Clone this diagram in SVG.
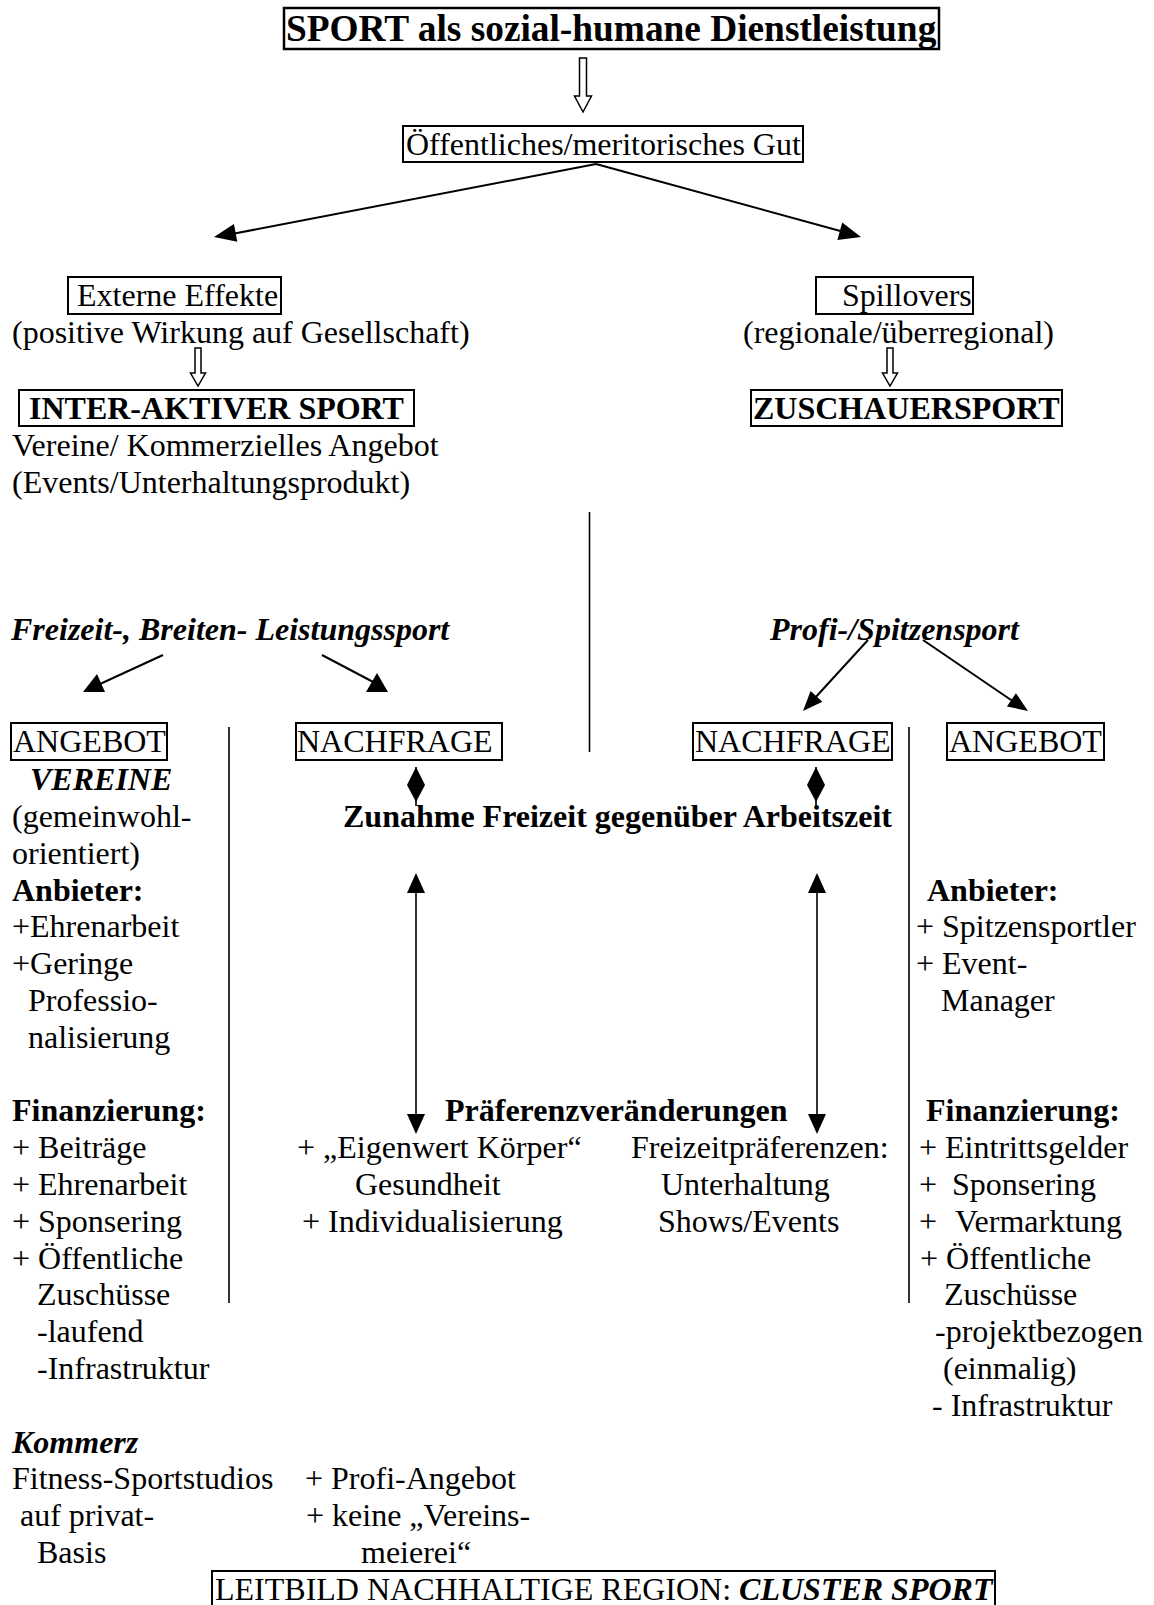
<svg xmlns="http://www.w3.org/2000/svg" width="1154" height="1605" viewBox="0 0 1154 1605">
<style>
text{font-family:"Liberation Serif","Times New Roman",serif;font-size:32px;fill:#000}
.t{font-size:37.33px;font-weight:bold}
.b{font-weight:bold}
.bi{font-weight:bold;font-style:italic}
.box{fill:none;stroke:#000;stroke-width:2}
.ln{stroke:#000;stroke-width:2;fill:none}
.sep{stroke:#000;stroke-width:1.6;fill:none}
.hd{fill:#000;stroke:none}
.hol{fill:#fff;stroke:#000;stroke-width:1.5}
</style>
<rect width="1154" height="1605" fill="#fff"/>

<g id="title">
<rect class="box" x="284" y="8" width="655" height="41" style="stroke-width:2.5"/>
<text class="t" x="286" y="41">SPORT als sozial-humane Dienstleistung</text>
</g>
<g id="gut">
<rect class="box" x="403" y="126" width="400" height="36"/>
<text x="406" y="155">Öffentliches/meritorisches Gut</text>
</g>
<g id="externe">
<rect class="box" x="68" y="277" width="213" height="37"/>
<text x="77" y="306">Externe Effekte</text>
<text x="12" y="343">(positive Wirkung auf Gesellschaft)</text>
</g>
<g id="spillovers">
<rect class="box" x="816" y="277" width="157" height="37"/>
<text x="842" y="306">Spillovers</text>
<text x="743" y="343">(regionale/überregional)</text>
</g>
<g id="interaktiv">
<rect class="box" x="19" y="390" width="395" height="36"/>
<text class="b" x="29" y="419">INTER-AKTIVER SPORT</text>
<text x="12" y="456">Vereine/ Kommerzielles Angebot</text>
<text x="12" y="493">(Events/Unterhaltungsprodukt)</text>
</g>
<g id="zuschauer">
<rect class="box" x="751" y="390" width="311" height="36"/>
<text class="b" x="753" y="419">ZUSCHAUERSPORT</text>
</g>
<g id="freizeit">
<text class="bi" x="11" y="640">Freizeit-, Breiten- Leistungssport</text>
</g>
<g id="profi">
<text class="bi" x="770" y="640">Profi-/Spitzensport</text>
</g>
<g id="angebot-left">
<rect class="box" x="11" y="723" width="156" height="37"/>
<text x="13" y="752">ANGEBOT</text>
<text class="bi" x="30" y="790">VEREINE</text>
<text x="12" y="827">(gemeinwohl-</text>
<text x="12" y="864">orientiert)</text>
<text class="b" x="12" y="901">Anbieter:</text>
<text x="12" y="937">+Ehrenarbeit</text>
<text x="12" y="974">+Geringe</text>
<text x="28" y="1011">Professio-</text>
<text x="28" y="1048">nalisierung</text>
<text class="b" x="12" y="1121">Finanzierung:</text>
<text x="12" y="1158">+ Beiträge</text>
<text x="12" y="1195">+ Ehrenarbeit</text>
<text x="12" y="1232">+ Sponsering</text>
<text x="12" y="1269">+ Öffentliche</text>
<text x="37" y="1305">Zuschüsse</text>
<text x="37" y="1342">-laufend</text>
<text x="37" y="1379">-Infrastruktur</text>
</g>
<g id="nachfrage-left">
<rect class="box" x="296" y="723" width="206" height="37"/>
<text x="297" y="752">NACHFRAGE</text>
</g>
<g id="nachfrage-right">
<rect class="box" x="693" y="723" width="199" height="37"/>
<text x="695" y="752">NACHFRAGE</text>
</g>
<g id="angebot-right">
<rect class="box" x="947" y="723" width="157" height="37"/>
<text x="949" y="752">ANGEBOT</text>
<text class="b" x="927" y="901">Anbieter:</text>
<text x="916" y="937">+ Spitzensportler</text>
<text x="916" y="974">+ Event-</text>
<text x="941" y="1011">Manager</text>
<text class="b" x="926" y="1121">Finanzierung:</text>
<text x="919" y="1158">+ Eintrittsgelder</text>
<text x="919" y="1195">+<tspan x="952">Sponsering</tspan></text>
<text x="919" y="1232">+<tspan x="955">Vermarktung</tspan></text>
<text x="920" y="1269">+ Öffentliche</text>
<text x="944" y="1305">Zuschüsse</text>
<text x="935" y="1342">-projektbezogen</text>
<text x="943" y="1379">(einmalig)</text>
<text x="932" y="1416">- Infrastruktur</text>
</g>
<g id="zunahme">
<text class="b" x="343" y="827">Zunahme Freizeit gegenüber Arbeitszeit</text>
</g>
<g id="praeferenz">
<text class="b" x="445" y="1121">Präferenzveränderungen</text>
<text x="297" y="1158">+ „Eigenwert Körper“</text>
<text x="355" y="1195">Gesundheit</text>
<text x="302" y="1232">+ Individualisierung</text>
<text x="631" y="1158">Freizeitpräferenzen:</text>
<text x="661" y="1195">Unterhaltung</text>
<text x="658" y="1232">Shows/Events</text>
</g>
<g id="kommerz">
<text class="bi" x="12" y="1453">Kommerz</text>
<text x="12" y="1489">Fitness-Sportstudios</text>
<text x="20" y="1526">auf privat-</text>
<text x="37" y="1563">Basis</text>
<text x="305" y="1489">+ Profi-Angebot</text>
<text x="306" y="1526">+ keine „Vereins-</text>
<text x="361" y="1563">meierei“</text>
</g>
<g id="leitbild">
<rect class="box" x="212" y="1571" width="783" height="40"/>
<text x="215" y="1600">LEITBILD NACHHALTIGE REGION: <tspan class="bi">CLUSTER SPORT</tspan></text>
</g>

<g id="connectors">
<polygon class="hol" points="579.5,58 586.5,58 586.5,96 591.5,96 583,112 574.5,96 579.5,96"/>
<polygon class="hol" points="195,348 201,348 201,373 205.5,373 198,386 190.5,373 195,373"/>
<polygon class="hol" points="887,348 893,348 893,373 897.5,373 890,386 882.5,373 887,373"/>

<line class="ln" x1="596" y1="164" x2="232" y2="234"/>
<polygon class="hd" points="214,237 237.3,241.7 233.9,224.1"/>
<line class="ln" x1="596" y1="164" x2="844" y2="232"/>
<polygon class="hd" points="861,237 837.4,239.9 842.2,222.5"/>

<line class="ln" x1="163" y1="655" x2="100" y2="684"/>
<polygon class="hd" points="83,692 105,692 97,674"/>
<line class="ln" x1="322" y1="655" x2="377" y2="684"/>
<polygon class="hd" points="366,692 388,692 377,673"/>

<line class="ln" x1="868" y1="640" x2="814" y2="699"/>
<polygon class="hd" points="803,711 822.4,701.7 810.6,690.9"/>
<line class="ln" x1="923" y1="640" x2="1014" y2="702"/>
<polygon class="hd" points="1028,711 1006.9,706.4 1015.9,693.2"/>

<line class="sep" x1="589.5" y1="512" x2="589.5" y2="752"/>
<line class="sep" x1="229" y1="727" x2="229" y2="1303"/>
<line class="sep" x1="909" y1="727" x2="909" y2="1303"/>

<line class="sep" x1="416" y1="767" x2="416" y2="806"/>
<polygon class="hd" points="416,767 425,785 416,802 407,785"/>
<line class="sep" x1="816" y1="767" x2="816" y2="806"/>
<polygon class="hd" points="816,767 825,785 816,802 807,785"/>

<line class="sep" x1="416" y1="890" x2="416" y2="1118"/>
<polygon class="hd" points="416,873 425,893 407,893"/>
<polygon class="hd" points="416,1134 425,1114 407,1114"/>
<line class="sep" x1="817" y1="890" x2="817" y2="1118"/>
<polygon class="hd" points="817,873 826,893 808,893"/>
<polygon class="hd" points="817,1134 826,1114 808,1114"/>
</g>
</svg>
